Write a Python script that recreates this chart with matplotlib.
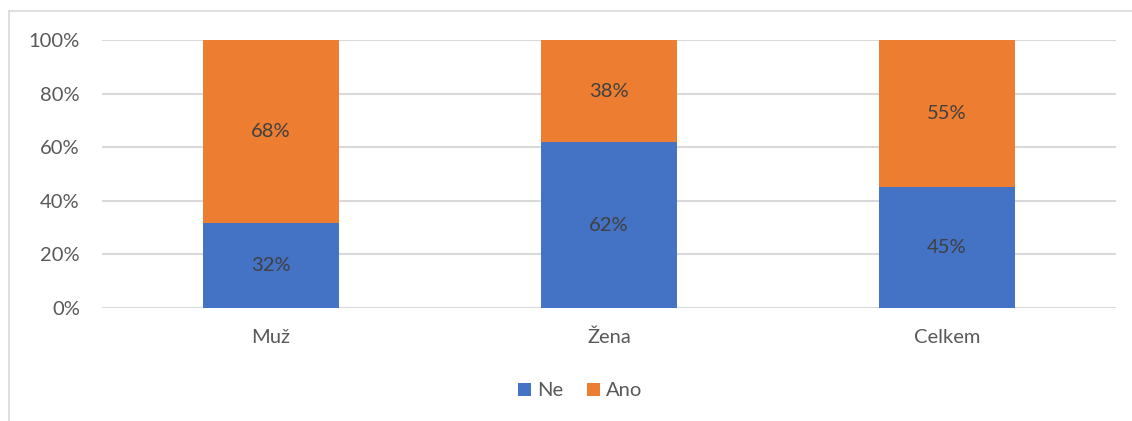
import numpy as np
import matplotlib.pyplot as plt
from matplotlib.lines import Line2D

categories = ['Muž', 'Žena', 'Celkem']
ne_values = [31.7, 61.9, 45.1]
ano_values = [68.3, 38.1, 54.9]
series_names = ['Ne', 'Ano']
y_ticks = [0, 20, 40, 60, 80, 100]

BLUE = '#4472c4'
ORANGE = '#ed7d31'
TEXT = '#595959'
GRID = '#d9d9d9'

plt.rcParams['font.family'] = ['Lato', 'DejaVu Sans']

fig = plt.figure(figsize=(11.32, 4.21), dpi=100)
ax = fig.add_axes([102 / 1132, 1 - 308 / 421, 1014 / 1132, 268 / 421])

x = np.arange(len(categories))
ne = np.array(ne_values)
ano = np.array(ano_values)
ax.bar(x, ne, width=0.4, color=BLUE, label=series_names[0], zorder=3)
ax.bar(x, ano, width=0.4, bottom=ne, color=ORANGE, label=series_names[1], zorder=3)

for i in range(len(categories)):
    ax.text(x[i], ne[i] / 2, f'{round(ne[i])}%', ha='center', va='center',
            fontsize=14.5, color='#404040', zorder=4)
    ax.text(x[i], ne[i] + ano[i] / 2, f'{round(ano[i])}%', ha='center', va='center',
            fontsize=14.5, color='#404040', zorder=4)

ax.set_xlim(-0.5, len(categories) - 0.5)
ax.set_ylim(0, 100)
ax.set_yticks(y_ticks)
ax.set_yticklabels([f'{t}%' for t in y_ticks])
ax.set_xticks(x)
ax.set_xticklabels(categories)
ax.tick_params(axis='both', length=0, labelsize=14.5, labelcolor=TEXT)
ax.tick_params(axis='y', pad=16)
ax.tick_params(axis='x', pad=15)
ax.yaxis.grid(True, color=GRID, linewidth=1.5, zorder=0)
for s in ax.spines.values():
    s.set_visible(False)

leg = fig.legend(loc='center', bbox_to_anchor=(580 / 1132, 1 - 391 / 421), ncol=2,
                 frameon=False, fontsize=14.5, handlelength=0.65, handleheight=0.65,
                 handletextpad=0.3, columnspacing=1.2)
for t in leg.get_texts():
    t.set_color(TEXT)

# chart border
fig.add_artist(Line2D([9 / 1132, 1.0], [1 - 11 / 421, 1 - 11 / 421],
                      transform=fig.transFigure, color=GRID, linewidth=1.2))
fig.add_artist(Line2D([9 / 1132, 9 / 1132], [0, 1 - 11 / 421],
                      transform=fig.transFigure, color=GRID, linewidth=1.2))

fig.savefig('out.png', dpi=100, facecolor='white')
